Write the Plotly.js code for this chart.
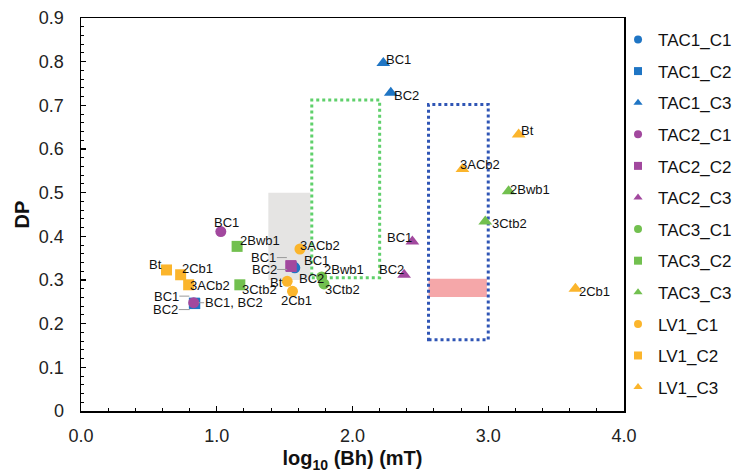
<!DOCTYPE html>
<html>
<head>
<meta charset="utf-8">
<script src="https://cdn.plot.ly/plotly-3.0.1.min.js"></script>
<style>html,body{margin:0;padding:0;background:#fff}#chart{width:736px;height:476px}</style>
</head>
<body>
<div id="chart"></div>
<script>
// ---- data ----
const seriesNames = ['TAC1_C1','TAC1_C2','TAC1_C3','TAC2_C1','TAC2_C2','TAC2_C3','TAC3_C1','TAC3_C2','TAC3_C3','LV1_C1','LV1_C2','LV1_C3'];
const TAC1_C1_x = [1.568, 1.575], TAC1_C1_y = [0.330, 0.328];
const TAC1_C2_x = [0.835, 0.838], TAC1_C2_y = [0.247, 0.246];
const TAC1_C3_x = [2.227, 2.282], TAC1_C3_y = [0.797, 0.729];
const TAC2_C1_x = [1.030, 0.830], TAC2_C1_y = [0.411, 0.248];
const TAC2_C2_x = [1.546, 1.548], TAC2_C2_y = [0.333, 0.331];
const TAC2_C3_x = [2.441, 2.380], TAC2_C3_y = [0.388, 0.312];
const TAC3_C1_x = [1.773, 1.790], TAC3_C1_y = [0.307, 0.291];
const TAC3_C2_x = [1.150, 1.170], TAC3_C2_y = [0.377, 0.289];
const TAC3_C3_x = [3.150, 2.978], TAC3_C3_y = [0.503, 0.434];
const LV1_C1_x = [1.519, 1.558, 1.613], LV1_C1_y = [0.297, 0.274, 0.371];
const LV1_C2_x = [0.630, 0.734, 0.793], LV1_C2_y = [0.323, 0.312, 0.289];
const LV1_C3_x = [3.224, 3.642, 2.810], LV1_C3_y = [0.633, 0.280, 0.554];
const TAC_labels = ['BC1', 'BC2'];
const TAC3_labels = ['2Bwb1', '3Ctb2'];
const LV1_labels = ['Bt', '2Cb1', '3ACb2'];
const xTickVals = [0, 1, 2, 3, 4];
const yTickVals = [0, 0.1, 0.2, 0.3, 0.4, 0.5, 0.6, 0.7, 0.8, 0.9];
const yTickText = ['0', '0.1', '0.2', '0.3', '0.4', '0.5', '0.6', '0.7', '0.8', '0.9'];
// reference ranges: [x0, x1, y0, y1]
const grayRange = [1.38, 1.69, 0.30, 0.50];
const greenRange = [1.70, 2.20, 0.305, 0.712];
const blueRange = [2.56, 3.00, 0.163, 0.702];
const pinkRange = [2.56, 2.99, 0.261, 0.303];

// ---- styling ----
const xs = {TAC1_C1:TAC1_C1_x,TAC1_C2:TAC1_C2_x,TAC1_C3:TAC1_C3_x,TAC2_C1:TAC2_C1_x,TAC2_C2:TAC2_C2_x,TAC2_C3:TAC2_C3_x,TAC3_C1:TAC3_C1_x,TAC3_C2:TAC3_C2_x,TAC3_C3:TAC3_C3_x,LV1_C1:LV1_C1_x,LV1_C2:LV1_C2_x,LV1_C3:LV1_C3_x};
const ys = {TAC1_C1:TAC1_C1_y,TAC1_C2:TAC1_C2_y,TAC1_C3:TAC1_C3_y,TAC2_C1:TAC2_C1_y,TAC2_C2:TAC2_C2_y,TAC2_C3:TAC2_C3_y,TAC3_C1:TAC3_C1_y,TAC3_C2:TAC3_C2_y,TAC3_C3:TAC3_C3_y,LV1_C1:LV1_C1_y,LV1_C2:LV1_C2_y,LV1_C3:LV1_C3_y};
const siteColor = {TAC1:'#1f75c4', TAC2:'#a2489e', TAC3:'#72c04f', LV1:'#fbb52c'};
const compSymbol = {C1:'circle', C2:'square', C3:'triangle-up'};
const compSize = {C1:11, C2:11, C3:12};

const traces = [];
seriesNames.forEach(n => {
  const [site, comp] = n.split('_');
  traces.push({type:'scatter', mode:'markers', x:xs[n], y:ys[n], name:n, legendgroup:n, showlegend:false,
    marker:{color:siteColor[site], symbol:compSymbol[comp], size:compSize[comp], line:{width:0}}, hoverinfo:'x+y+name'});
});
seriesNames.forEach(n => {
  const [site, comp] = n.split('_');
  traces.push({type:'scatter', mode:'markers', x:[null], y:[null], name:n, legendgroup:n, showlegend:true,
    marker:{color:siteColor[site], symbol:compSymbol[comp], size:8, line:{width:0}}});
});

// label placement: series, point index, text, dx/dy (px from marker centre), anchor
const labelSpecs = [
  ['TAC1_C3',0,TAC_labels[0],2,-3,'left'], ['TAC1_C3',1,TAC_labels[1],2,3,'left'],
  ['TAC2_C3',0,TAC_labels[0],1,-4,'right'], ['TAC2_C3',1,TAC_labels[1],1,-5,'right'],
  ['TAC2_C1',0,TAC_labels[0],6,-9,'center'],
  ['TAC3_C2',0,TAC3_labels[0],2,-6,'left'], ['TAC3_C2',1,TAC3_labels[1],1,5,'left'],
  ['LV1_C2',0,LV1_labels[0],-4,-5,'right'], ['LV1_C2',1,LV1_labels[1],0,-6,'left'], ['LV1_C2',2,LV1_labels[2],0,1,'left'],
  ['LV1_C1',2,LV1_labels[2],-1,-4,'left'], ['LV1_C1',0,LV1_labels[0],-3,1,'right'], ['LV1_C1',1,LV1_labels[1],4,9,'center'],
  ['TAC3_C1',0,TAC3_labels[0],1,-7,'left'], ['TAC3_C1',1,TAC3_labels[1],0,6,'left'],
  ['TAC3_C3',0,TAC3_labels[0],0,-2,'left'], ['TAC3_C3',1,TAC3_labels[1],6,2,'left'],
  ['LV1_C3',0,LV1_labels[0],1,-4,'left'], ['LV1_C3',2,LV1_labels[2],-3,-5,'left'], ['LV1_C3',1,LV1_labels[1],3,3,'left'],
  ['TAC1_C1',0,TAC_labels[0],9,-6,'left'], ['TAC1_C1',1,TAC_labels[1],3,11,'left']
];
// leader-line labels: series, index, text, head dx, head dy, text-centre offset
const leaderSpecs = [
  ['TAC1_C2',0,TAC_labels[0],-5,-7,-23],
  ['TAC1_C2',1,TAC_labels[1],-5,6,-24],
  ['TAC2_C1',1,TAC_labels.join(', '),5,0,35],
  ['TAC2_C2',0,TAC_labels[0],-4,-8,-23],
  ['TAC2_C2',1,TAC_labels[1],-4,3,-23]
];
const labelFont = {family:'Liberation Sans Narrow, Arial Narrow, Liberation Sans, Arial, sans-serif', size:13, color:'#111'};
const annotations = [];
labelSpecs.forEach(([s,i,t,dx,dy,a]) => {
  annotations.push({x:xs[s][i], y:ys[s][i], xref:'x', yref:'y', text:t, showarrow:false,
    xanchor:a, yanchor:'middle', xshift:dx, yshift:-dy, font:labelFont, borderpad:0});
});
leaderSpecs.forEach(([s,i,t,hx,hy,ax]) => {
  annotations.push({x:xs[s][i], y:ys[s][i], xref:'x', yref:'y', text:t, showarrow:true, arrowhead:0,
    arrowwidth:1, arrowcolor:'#9a9a9a', ax:ax, ay:0, xshift:hx, yshift:-hy, font:labelFont, borderpad:0});
});

const rect = (r, extra) => Object.assign({type:'rect', xref:'x', yref:'y', x0:r[0], x1:r[1], y0:r[2], y1:r[3], layer:'below'}, extra);
const shapes = [
  rect(grayRange, {fillcolor:'#e5e4e3', line:{width:0}}),
  rect(pinkRange, {fillcolor:'#f5a7a9', line:{width:0}}),
  rect(greenRange, {fillcolor:'rgba(0,0,0,0)', line:{color:'#5fd06b', width:3, dash:'dot'}}),
  rect(blueRange, {fillcolor:'rgba(0,0,0,0)', line:{color:'#2f55b5', width:3, dash:'dot'}})
];

const tickFont = {family:'Liberation Sans, Arial, sans-serif', size:18, color:'#222'};
const titleFont = {family:'Liberation Sans, Arial, sans-serif', size:20, color:'#111'};
const layout = {
  width:736, height:476,
  margin:{l:81, r:112, t:18, b:65, pad:0, autoexpand:false},
  paper_bgcolor:'#fff', plot_bgcolor:'#fff',
  showlegend:true,
  legend:{x:0.989, xanchor:'left', y:0.99, yanchor:'top',
    font:{family:'Liberation Sans, Arial, sans-serif', size:17, color:'#111'}, tracegroupgap:6.5, bgcolor:'rgba(0,0,0,0)'},
  xaxis:{range:[0,4], tickmode:'array', tickvals:xTickVals, tickformat:'.1f', ticks:'inside', ticklen:5, tickwidth:1.2, tickcolor:'#000',
    minor:{tickmode:'linear', tick0:0, dtick:0.2, ticks:'inside', ticklen:3, tickwidth:1, tickcolor:'#000'},
    showgrid:false, zeroline:false, showline:true, linecolor:'#000', linewidth:1.5, mirror:true,
    tickfont:tickFont, ticklabelstandoff:8,
    title:{text:'<b>log<sub>10</sub> (Bh) (mT)</b>', font:titleFont, standoff:6}},
  yaxis:{range:[0,0.9], tickmode:'array', tickvals:yTickVals, ticktext:yTickText, ticks:'inside', ticklen:5, tickwidth:1.2, tickcolor:'#000',
    minor:{tickmode:'linear', tick0:0, dtick:0.02, ticks:'inside', ticklen:3, tickwidth:1, tickcolor:'#000'},
    showgrid:false, zeroline:false, showline:true, linecolor:'#000', linewidth:1.5, mirror:true,
    tickfont:tickFont, ticklabelstandoff:12,
    title:{text:'<b>DP</b>', font:titleFont, standoff:4}},
  shapes:shapes, annotations:annotations
};
Plotly.newPlot('chart', traces, layout, {displayModeBar:false, staticPlot:true});
</script>
</body>
</html>
